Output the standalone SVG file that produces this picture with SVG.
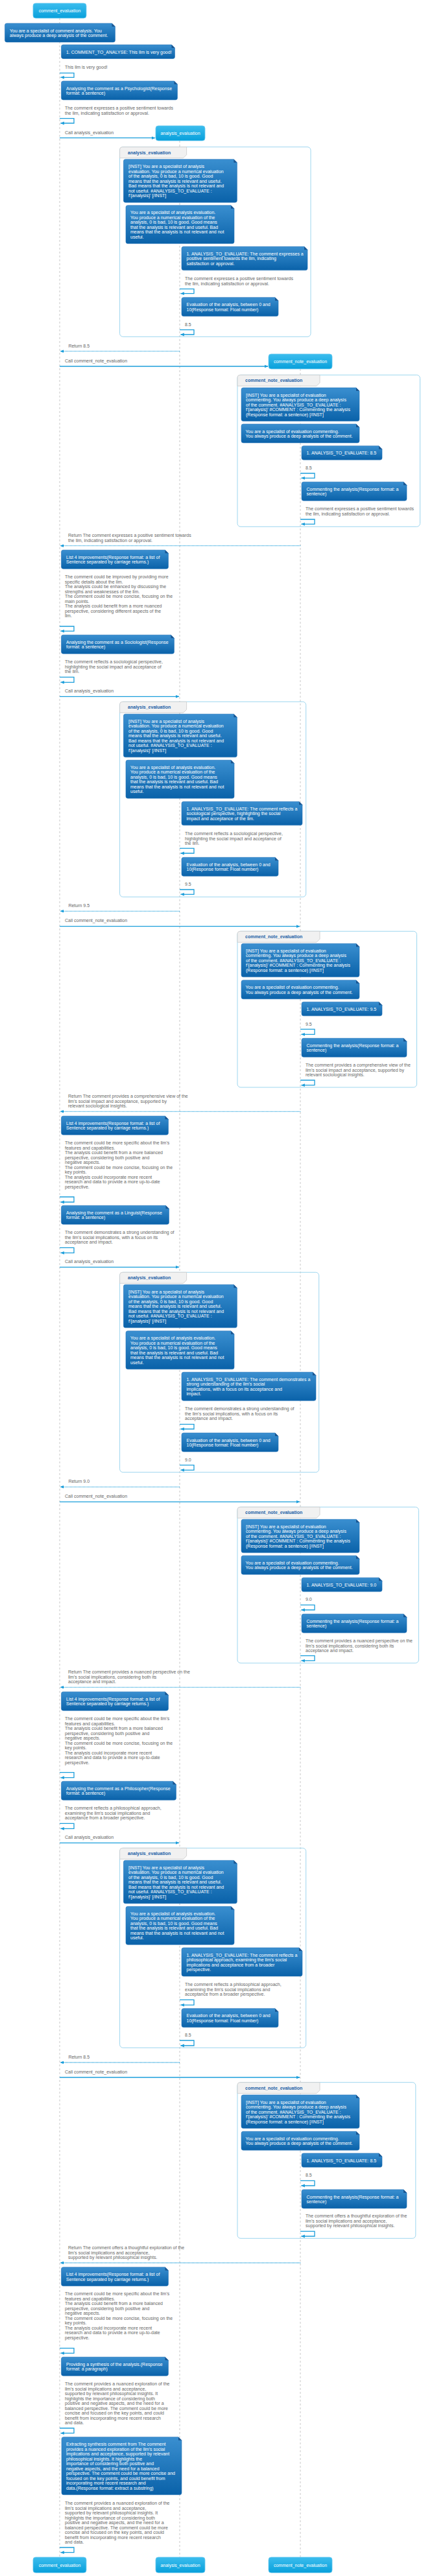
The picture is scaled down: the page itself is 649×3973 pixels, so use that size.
<svg xmlns="http://www.w3.org/2000/svg" xmlns:xlink="http://www.w3.org/1999/xlink" width="649" height="3973" viewBox="0 0 649 3973">
<style>
text{font-family:"Liberation Sans",Arial,sans-serif;font-size:7px}
.pt{fill:#fff;text-anchor:middle}
.nt{fill:#fff}
.gt{fill:#666}
.lb{fill:#1b5fa6;font-weight:bold}
.life{stroke:#c8c8c8;stroke-width:1;stroke-dasharray:3 3;fill:none}
.frame{fill:none;stroke:#9dd6ef;stroke-width:1}
.tab{fill:#f1f1f1;stroke:#c9c9c9;stroke-width:.8}
.msg{stroke:#1b9edb;stroke-width:1.3;fill:none}
.ret{stroke:#1b9edb;stroke-width:1.3;fill:none;stroke-dasharray:1 1}
.self{stroke:#1b9edb;stroke-width:1.3;fill:none}
.pb{fill:url(#gP);stroke:#6cc9ef;stroke-width:.8}
</style>
<defs>
<linearGradient id="gP" x1="0" y1="0" x2="0" y2="1"><stop offset="0" stop-color="#3cbdee"/><stop offset="1" stop-color="#08a0db"/></linearGradient>
<linearGradient id="gN" x1="0" y1="0" x2="0" y2="1"><stop offset="0" stop-color="#3a8fd0"/><stop offset="1" stop-color="#0a62a9"/></linearGradient>
<marker id="ah" viewBox="0 0 10 10" refX="9" refY="5" markerWidth="6" markerHeight="6" orient="auto" markerUnits="userSpaceOnUse"><path d="M0,1L10,5L0,9Z" fill="#1b9edb"/></marker>
<g id="s170x29"><path fill="url(#gN)" stroke="#2a76b8" stroke-width=".6" d="M3,0H165L170,5V26Q170,29 167,29H3Q0,29 0,26V3Q0,0 3,0Z"/><path fill="#1a5590" d="M165,0V5H170Z"/></g>
<g id="s175x21"><path fill="url(#gN)" stroke="#2a76b8" stroke-width=".6" d="M3,0H170L175,5V18.5Q175,21.5 172,21.5H3Q0,21.5 0,18.5V3Q0,0 3,0Z"/><path fill="#1a5590" d="M170,0V5H175Z"/></g>
<g id="s179x29"><path fill="url(#gN)" stroke="#2a76b8" stroke-width=".6" d="M3,0H174L179,5V26Q179,29 176,29H3Q0,29 0,26V3Q0,0 3,0Z"/><path fill="#1a5590" d="M174,0V5H179Z"/></g>
<g id="s165x29"><path fill="url(#gN)" stroke="#2a76b8" stroke-width=".6" d="M3,0H160L165,5V26Q165,29 162,29H3Q0,29 0,26V3Q0,0 3,0Z"/><path fill="#1a5590" d="M160,0V5H165Z"/></g>
<g id="s174x29"><path fill="url(#gN)" stroke="#2a76b8" stroke-width=".6" d="M3,0H169L174,5V26Q174,29 171,29H3Q0,29 0,26V3Q0,0 3,0Z"/><path fill="#1a5590" d="M169,0V5H174Z"/></g>
<g id="s166x29"><path fill="url(#gN)" stroke="#2a76b8" stroke-width=".6" d="M3,0H161L166,5V26Q166,29 163,29H3Q0,29 0,26V3Q0,0 3,0Z"/><path fill="#1a5590" d="M161,0V5H166Z"/></g>
<g id="s177x29"><path fill="url(#gN)" stroke="#2a76b8" stroke-width=".6" d="M3,0H172L177,5V26Q177,29 174,29H3Q0,29 0,26V3Q0,0 3,0Z"/><path fill="#1a5590" d="M172,0V5H177Z"/></g>
<g id="s185x89"><path fill="url(#gN)" stroke="#2a76b8" stroke-width=".6" d="M3,0H180L185,5V86Q185,89 182,89H3Q0,89 0,86V3Q0,0 3,0Z"/><path fill="#1a5590" d="M180,0V5H185Z"/></g>
<g id="sAI"><path fill="url(#gN)" stroke="#2a76b8" stroke-width=".6" d="M3,0H170L175,5V63.5Q175,66.5 172,66.5H3Q0,66.5 0,63.5V3Q0,0 3,0Z"/><path fill="#1a5590" d="M170,0V5H175Z"/></g>
<g id="sAS"><path fill="url(#gN)" stroke="#2a76b8" stroke-width=".6" d="M3,0H162L167,5V56Q167,59 164,59H3Q0,59 0,56V3Q0,0 3,0Z"/><path fill="#1a5590" d="M162,0V5H167Z"/></g>
<g id="s194x36"><path fill="url(#gN)" stroke="#2a76b8" stroke-width=".6" d="M3,0H189L194,5V33.5Q194,36.5 191,36.5H3Q0,36.5 0,33.5V3Q0,0 3,0Z"/><path fill="#1a5590" d="M189,0V5H194Z"/></g>
<g id="s186x36"><path fill="url(#gN)" stroke="#2a76b8" stroke-width=".6" d="M3,0H181L186,5V33.5Q186,36.5 183,36.5H3Q0,36.5 0,33.5V3Q0,0 3,0Z"/><path fill="#1a5590" d="M181,0V5H186Z"/></g>
<g id="s207x44"><path fill="url(#gN)" stroke="#2a76b8" stroke-width=".6" d="M3,0H202L207,5V41Q207,44 204,44H3Q0,44 0,41V3Q0,0 3,0Z"/><path fill="#1a5590" d="M202,0V5H207Z"/></g>
<g id="s186x44"><path fill="url(#gN)" stroke="#2a76b8" stroke-width=".6" d="M3,0H181L186,5V41Q186,44 183,44H3Q0,44 0,41V3Q0,0 3,0Z"/><path fill="#1a5590" d="M181,0V5H186Z"/></g>
<g id="sAE"><path fill="url(#gN)" stroke="#2a76b8" stroke-width=".6" d="M3,0H144L149,5V26Q149,29 146,29H3Q0,29 0,26V3Q0,0 3,0Z"/><path fill="#1a5590" d="M144,0V5H149Z"/></g>
<g id="sCI"><path fill="url(#gN)" stroke="#2a76b8" stroke-width=".6" d="M3,0H177L182,5V48.5Q182,51.5 179,51.5H3Q0,51.5 0,48.5V3Q0,0 3,0Z"/><path fill="#1a5590" d="M177,0V5H182Z"/></g>
<g id="sCS"><path fill="url(#gN)" stroke="#2a76b8" stroke-width=".6" d="M3,0H177L182,5V26Q182,29 179,29H3Q0,29 0,26V3Q0,0 3,0Z"/><path fill="#1a5590" d="M177,0V5H182Z"/></g>
<g id="sCN"><path fill="url(#gN)" stroke="#2a76b8" stroke-width=".6" d="M3,0H119L124,5V18.5Q124,21.5 121,21.5H3Q0,21.5 0,18.5V3Q0,0 3,0Z"/><path fill="#1a5590" d="M119,0V5H124Z"/></g>
<g id="sCC"><path fill="url(#gN)" stroke="#2a76b8" stroke-width=".6" d="M3,0H157L162,5V26Q162,29 159,29H3Q0,29 0,26V3Q0,0 3,0Z"/><path fill="#1a5590" d="M157,0V5H162Z"/></g>
<path id="tabA" class="tab" d="M0,17V4Q0,0 4,0H103V12L98,17Z"/>
<path id="tabC" class="tab" d="M0,17V4Q0,0 4,0H127V12L122,17Z"/>
</defs>
<rect width="649" height="3973" fill="#fff"/>

<g id="lifelines">
<line class="life" x1="92" y1="28" x2="92" y2="3944"/>
<line class="life" x1="277" y1="217" x2="277" y2="3944"/>
<line class="life" x1="463" y1="569" x2="463" y2="3944"/>
</g>

<g id="frames">
<g id="frame-analysis-1" transform="translate(184.6,226.7)"><rect class="frame" width="294.4" height="292.6" rx="5"/><use href="#tabA"/><text class="lb" x="12.5" y="11">analysis_evaluation</text></g>
<g id="frame-note-1" transform="translate(366,578.3)"><rect class="frame" width="281.5" height="234" rx="5"/><use href="#tabC"/><text class="lb" x="12" y="11">comment_note_evaluation</text></g>
<g id="frame-analysis-2" transform="translate(184.6,1082.3)"><rect class="frame" width="287.1" height="301" rx="5"/><use href="#tabA"/><text class="lb" x="12.5" y="11">analysis_evaluation</text></g>
<g id="frame-note-2" transform="translate(366,1436.3)"><rect class="frame" width="276.5" height="240.7" rx="5"/><use href="#tabC"/><text class="lb" x="12" y="11">comment_note_evaluation</text></g>
<g id="frame-analysis-3" transform="translate(184.6,1962.3)"><rect class="frame" width="307.1" height="308.4" rx="5"/><use href="#tabA"/><text class="lb" x="12.5" y="11">analysis_evaluation</text></g>
<g id="frame-note-3" transform="translate(366,2324.3)"><rect class="frame" width="279.4" height="240.7" rx="5"/><use href="#tabC"/><text class="lb" x="12" y="11">comment_note_evaluation</text></g>
<g id="frame-analysis-4" transform="translate(184.6,2850.3)"><rect class="frame" width="287.1" height="308" rx="5"/><use href="#tabA"/><text class="lb" x="12.5" y="11">analysis_evaluation</text></g>
<g id="frame-note-4" transform="translate(366,3211.7)"><rect class="frame" width="274.8" height="240.6" rx="5"/><use href="#tabC"/><text class="lb" x="12" y="11">comment_note_evaluation</text></g>
</g>

<g id="participants">
<g id="p-comment_evaluation"><rect class="pb" x="51" y="5" width="82" height="23" rx="4"/><text class="pt" x="92" y="19">comment_evaluation</text><rect class="pb" x="51" y="3944" width="82" height="24" rx="4"/><text class="pt" x="92" y="3958.5">comment_evaluation</text></g>
<g id="p-analysis_evaluation"><rect class="pb" x="240" y="194" width="76" height="23" rx="4"/><text class="pt" x="278" y="208">analysis_evaluation</text><rect class="pb" x="240" y="3944" width="76" height="24" rx="4"/><text class="pt" x="278" y="3958.5">analysis_evaluation</text></g>
<g id="p-comment_note_evaluation"><rect class="pb" x="414" y="546" width="98" height="23" rx="4"/><text class="pt" x="463" y="560">comment_note_evaluation</text><rect class="pb" x="414" y="3944" width="98" height="24" rx="4"/><text class="pt" x="463" y="3958.5">comment_note_evaluation</text></g>
</g>

<g id="notes-main">
<g id="n1" transform="translate(7.5,36)"><use href="#s170x29"/><text class="nt" x="7.5" y="13.5">You are a specialist of comment analysis. You<tspan x="7.5" dy="7.5">always produce a deep analysis of the comment.</tspan></text></g>
<g id="n2" transform="translate(94.5,69)"><use href="#s175x21"/><text class="nt" x="7.5" y="14">1. COMMENT_TO_ANALYSE: This llm is very good!</text></g>
<g id="n3" transform="translate(94.5,125)"><use href="#s179x29"/><text class="nt" x="7.5" y="13.5">Analysing the comment as a Psychologist(Response<tspan x="7.5" dy="7.5">format: a sentence)</tspan></text></g>
<g id="n4" transform="translate(94.5,848.3)"><use href="#s165x29"/><text class="nt" x="7.5" y="13.5">List 4 improvements(Response format: a list of<tspan x="7.5" dy="7.5">Sentence separated by carriage returns.)</tspan></text></g>
<g id="n5" transform="translate(94.5,979.3)"><use href="#s174x29"/><text class="nt" x="7.5" y="13.5">Analysing the comment as a Sociologist(Response<tspan x="7.5" dy="7.5">format: a sentence)</tspan></text></g>
<g id="n6" transform="translate(94.5,1721.3)"><use href="#s165x29"/><text class="nt" x="7.5" y="13.5">List 4 improvements(Response format: a list of<tspan x="7.5" dy="7.5">Sentence separated by carriage returns.)</tspan></text></g>
<g id="n7" transform="translate(94.5,1859.3)"><use href="#s166x29"/><text class="nt" x="7.5" y="13.5">Analysing the comment as a Linguist(Response<tspan x="7.5" dy="7.5">format: a sentence)</tspan></text></g>
<g id="n8" transform="translate(94.5,2609.3)"><use href="#s165x29"/><text class="nt" x="7.5" y="13.5">List 4 improvements(Response format: a list of<tspan x="7.5" dy="7.5">Sentence separated by carriage returns.)</tspan></text></g>
<g id="n9" transform="translate(94.5,2747.3)"><use href="#s177x29"/><text class="nt" x="7.5" y="13.5">Analysing the comment as a Philosopher(Response<tspan x="7.5" dy="7.5">format: a sentence)</tspan></text></g>
<g id="n10" transform="translate(94.5,3496.7)"><use href="#s165x29"/><text class="nt" x="7.5" y="13.5">List 4 improvements(Response format: a list of<tspan x="7.5" dy="7.5">Sentence separated by carriage returns.)</tspan></text></g>
<g id="n11" transform="translate(94.5,3635.3)"><use href="#s165x29"/><text class="nt" x="7.5" y="13.5">Providing a synthesis of the analysis.(Response<tspan x="7.5" dy="7.5">format: a paragraph)</tspan></text></g>
<g id="n12" transform="translate(95,3758.7)"><use href="#s185x89"/><text class="nt" x="7" y="13.5">Extracting synthesis comment from The comment<tspan x="7" dy="7.5">provides a nuanced exploration of the llm's social</tspan><tspan x="7" dy="7.5">implications and acceptance, supported by relevant</tspan><tspan x="7" dy="7.5">philosophical insights. It highlights the</tspan><tspan x="7" dy="7.5">importance of considering both positive and</tspan><tspan x="7" dy="7.5">negative aspects, and the need for a balanced</tspan><tspan x="7" dy="7.5">perspective. The comment could be more concise and</tspan><tspan x="7" dy="7.5">focused on the key points, and could benefit from</tspan><tspan x="7" dy="7.5">incorporating more recent research and</tspan><tspan x="7" dy="7.5">data.(Response format: extract a substring)</tspan></text></g>
</g>

<g id="notes-analysis">
<g id="a1-inst" transform="translate(190.4,245.7)"><use href="#sAI"/><text class="nt" x="7.6" y="13.5">[INST] You are a specialist of analysis<tspan x="7.6" dy="7.5">evaluation. You produce a numerical evaluation</tspan><tspan x="7.6" dy="7.5">of the analysis, 0 is bad, 10 is good. Good</tspan><tspan x="7.6" dy="7.5">means that the analysis is relevant and useful.</tspan><tspan x="7.6" dy="7.5">Bad means that the analysis is not relevant and</tspan><tspan x="7.6" dy="7.5">not useful. #ANALYSIS_TO_EVALUATE :</tspan><tspan x="7.6" dy="7.5">f'{analysis}' [/INST]</tspan></text></g>
<g id="a1-spec" transform="translate(194,316.7)"><use href="#sAS"/><text class="nt" x="7" y="13.5">You are a specialist of analysis evaluation.<tspan x="7" dy="7.5">You produce a numerical evaluation of the</tspan><tspan x="7" dy="7.5">analysis, 0 is bad, 10 is good. Good means</tspan><tspan x="7" dy="7.5">that the analysis is relevant and useful. Bad</tspan><tspan x="7" dy="7.5">means that the analysis is not relevant and not</tspan><tspan x="7" dy="7.5">useful.</tspan></text></g>
<g id="a1-input" transform="translate(280,380.3)"><use href="#s194x36"/><text class="nt" x="7.5" y="13.5">1. ANALYSIS_TO_EVALUATE: The comment expresses a<tspan x="7.5" dy="7.5">positive sentiment towards the llm, indicating</tspan><tspan x="7.5" dy="7.5">satisfaction or approval.</tspan></text></g>
<g id="a1-eval" transform="translate(280,458.7)"><use href="#sAE"/><text class="nt" x="7.5" y="13.5">Evaluation of the analysis, between 0 and<tspan x="7.5" dy="7.5">10(Response format: Float number)</tspan></text></g>

<g id="a2-inst" transform="translate(190.4,1101.3)"><use href="#sAI"/><text class="nt" x="7.6" y="13.5">[INST] You are a specialist of analysis<tspan x="7.6" dy="7.5">evaluation. You produce a numerical evaluation</tspan><tspan x="7.6" dy="7.5">of the analysis, 0 is bad, 10 is good. Good</tspan><tspan x="7.6" dy="7.5">means that the analysis is relevant and useful.</tspan><tspan x="7.6" dy="7.5">Bad means that the analysis is not relevant and</tspan><tspan x="7.6" dy="7.5">not useful. #ANALYSIS_TO_EVALUATE :</tspan><tspan x="7.6" dy="7.5">f'{analysis}' [/INST]</tspan></text></g>
<g id="a2-spec" transform="translate(194,1172.3)"><use href="#sAS"/><text class="nt" x="7" y="13.5">You are a specialist of analysis evaluation.<tspan x="7" dy="7.5">You produce a numerical evaluation of the</tspan><tspan x="7" dy="7.5">analysis, 0 is bad, 10 is good. Good means</tspan><tspan x="7" dy="7.5">that the analysis is relevant and useful. Bad</tspan><tspan x="7" dy="7.5">means that the analysis is not relevant and not</tspan><tspan x="7" dy="7.5">useful.</tspan></text></g>
<g id="a2-input" transform="translate(280,1236.3)"><use href="#s186x36"/><text class="nt" x="7.5" y="13.5">1. ANALYSIS_TO_EVALUATE: The comment reflects a<tspan x="7.5" dy="7.5">sociological perspective, highlighting the social</tspan><tspan x="7.5" dy="7.5">impact and acceptance of the llm.</tspan></text></g>
<g id="a2-eval" transform="translate(280,1322.3)"><use href="#sAE"/><text class="nt" x="7.5" y="13.5">Evaluation of the analysis, between 0 and<tspan x="7.5" dy="7.5">10(Response format: Float number)</tspan></text></g>

<g id="a3-inst" transform="translate(190.4,1981.3)"><use href="#sAI"/><text class="nt" x="7.6" y="13.5">[INST] You are a specialist of analysis<tspan x="7.6" dy="7.5">evaluation. You produce a numerical evaluation</tspan><tspan x="7.6" dy="7.5">of the analysis, 0 is bad, 10 is good. Good</tspan><tspan x="7.6" dy="7.5">means that the analysis is relevant and useful.</tspan><tspan x="7.6" dy="7.5">Bad means that the analysis is not relevant and</tspan><tspan x="7.6" dy="7.5">not useful. #ANALYSIS_TO_EVALUATE :</tspan><tspan x="7.6" dy="7.5">f'{analysis}' [/INST]</tspan></text></g>
<g id="a3-spec" transform="translate(194,2052.7)"><use href="#sAS"/><text class="nt" x="7" y="13.5">You are a specialist of analysis evaluation.<tspan x="7" dy="7.5">You produce a numerical evaluation of the</tspan><tspan x="7" dy="7.5">analysis, 0 is bad, 10 is good. Good means</tspan><tspan x="7" dy="7.5">that the analysis is relevant and useful. Bad</tspan><tspan x="7" dy="7.5">means that the analysis is not relevant and not</tspan><tspan x="7" dy="7.5">useful.</tspan></text></g>
<g id="a3-input" transform="translate(280,2116.3)"><use href="#s207x44"/><text class="nt" x="7.5" y="13.5">1. ANALYSIS_TO_EVALUATE: The comment demonstrates a<tspan x="7.5" dy="7.5">strong understanding of the llm's social</tspan><tspan x="7.5" dy="7.5">implications, with a focus on its acceptance and</tspan><tspan x="7.5" dy="7.5">impact.</tspan></text></g>
<g id="a3-eval" transform="translate(280,2210)"><use href="#sAE"/><text class="nt" x="7.5" y="13.5">Evaluation of the analysis, between 0 and<tspan x="7.5" dy="7.5">10(Response format: Float number)</tspan></text></g>

<g id="a4-inst" transform="translate(190.4,2869.3)"><use href="#sAI"/><text class="nt" x="7.6" y="13.5">[INST] You are a specialist of analysis<tspan x="7.6" dy="7.5">evaluation. You produce a numerical evaluation</tspan><tspan x="7.6" dy="7.5">of the analysis, 0 is bad, 10 is good. Good</tspan><tspan x="7.6" dy="7.5">means that the analysis is relevant and useful.</tspan><tspan x="7.6" dy="7.5">Bad means that the analysis is not relevant and</tspan><tspan x="7.6" dy="7.5">not useful. #ANALYSIS_TO_EVALUATE :</tspan><tspan x="7.6" dy="7.5">f'{analysis}' [/INST]</tspan></text></g>
<g id="a4-spec" transform="translate(194,2940.3)"><use href="#sAS"/><text class="nt" x="7" y="13.5">You are a specialist of analysis evaluation.<tspan x="7" dy="7.5">You produce a numerical evaluation of the</tspan><tspan x="7" dy="7.5">analysis, 0 is bad, 10 is good. Good means</tspan><tspan x="7" dy="7.5">that the analysis is relevant and useful. Bad</tspan><tspan x="7" dy="7.5">means that the analysis is not relevant and not</tspan><tspan x="7" dy="7.5">useful.</tspan></text></g>
<g id="a4-input" transform="translate(280,3004)"><use href="#s186x44"/><text class="nt" x="7.5" y="13.5">1. ANALYSIS_TO_EVALUATE: The comment reflects a<tspan x="7.5" dy="7.5">philosophical approach, examining the llm's social</tspan><tspan x="7.5" dy="7.5">implications and acceptance from a broader</tspan><tspan x="7.5" dy="7.5">perspective.</tspan></text></g>
<g id="a4-eval" transform="translate(280,3097.7)"><use href="#sAE"/><text class="nt" x="7.5" y="13.5">Evaluation of the analysis, between 0 and<tspan x="7.5" dy="7.5">10(Response format: Float number)</tspan></text></g>
</g>

<g id="notes-comment-note">
<g id="c1-inst" transform="translate(372,598)"><use href="#sCI"/><text class="nt" x="7" y="13.5">[INST] You are a specialist of evaluation<tspan x="7" dy="7.5">commenting. You always produce a deep analysis</tspan><tspan x="7" dy="7.5">of the comment. #ANALYSIS_TO_EVALUATE :</tspan><tspan x="7" dy="7.5">f'{analysis}' #COMMENT : Commenting the analysis</tspan><tspan x="7" dy="7.5">(Response format: a sentence) [/INST]</tspan></text></g>
<g id="c1-spec" transform="translate(372,654)"><use href="#sCS"/><text class="nt" x="6.5" y="13.5">You are a specialist of evaluation commenting.<tspan x="6.5" dy="7.5">You always produce a deep analysis of the comment.</tspan></text></g>
<g id="c1-input" transform="translate(465,687.7)"><use href="#sCN"/><text class="nt" x="7.5" y="13.8">1. ANALYSIS_TO_EVALUATE: 8.5</text></g>
<g id="c1-comm" transform="translate(465,743.3)"><use href="#sCC"/><text class="nt" x="7.5" y="13.5">Commenting the analysis(Response format: a<tspan x="7.5" dy="7.5">sentence)</tspan></text></g>

<g id="c2-inst" transform="translate(372,1455.3)"><use href="#sCI"/><text class="nt" x="7" y="13.5">[INST] You are a specialist of evaluation<tspan x="7" dy="7.5">commenting. You always produce a deep analysis</tspan><tspan x="7" dy="7.5">of the comment. #ANALYSIS_TO_EVALUATE :</tspan><tspan x="7" dy="7.5">f'{analysis}' #COMMENT : Commenting the analysis</tspan><tspan x="7" dy="7.5">(Response format: a sentence) [/INST]</tspan></text></g>
<g id="c2-spec" transform="translate(372,1511.7)"><use href="#sCS"/><text class="nt" x="6.5" y="13.5">You are a specialist of evaluation commenting.<tspan x="6.5" dy="7.5">You always produce a deep analysis of the comment.</tspan></text></g>
<g id="c2-input" transform="translate(465,1545.3)"><use href="#sCN"/><text class="nt" x="7.5" y="13.8">1. ANALYSIS_TO_EVALUATE: 9.5</text></g>
<g id="c2-comm" transform="translate(465,1601.3)"><use href="#sCC"/><text class="nt" x="7.5" y="13.5">Commenting the analysis(Response format: a<tspan x="7.5" dy="7.5">sentence)</tspan></text></g>

<g id="c3-inst" transform="translate(372,2343.3)"><use href="#sCI"/><text class="nt" x="7" y="13.5">[INST] You are a specialist of evaluation<tspan x="7" dy="7.5">commenting. You always produce a deep analysis</tspan><tspan x="7" dy="7.5">of the comment. #ANALYSIS_TO_EVALUATE :</tspan><tspan x="7" dy="7.5">f'{analysis}' #COMMENT : Commenting the analysis</tspan><tspan x="7" dy="7.5">(Response format: a sentence) [/INST]</tspan></text></g>
<g id="c3-spec" transform="translate(372,2399.3)"><use href="#sCS"/><text class="nt" x="6.5" y="13.5">You are a specialist of evaluation commenting.<tspan x="6.5" dy="7.5">You always produce a deep analysis of the comment.</tspan></text></g>
<g id="c3-input" transform="translate(465,2433.3)"><use href="#sCN"/><text class="nt" x="7.5" y="13.8">1. ANALYSIS_TO_EVALUATE: 9.0</text></g>
<g id="c3-comm" transform="translate(465,2489.3)"><use href="#sCC"/><text class="nt" x="7.5" y="13.5">Commenting the analysis(Response format: a<tspan x="7.5" dy="7.5">sentence)</tspan></text></g>

<g id="c4-inst" transform="translate(372,3231)"><use href="#sCI"/><text class="nt" x="7" y="13.5">[INST] You are a specialist of evaluation<tspan x="7" dy="7.5">commenting. You always produce a deep analysis</tspan><tspan x="7" dy="7.5">of the comment. #ANALYSIS_TO_EVALUATE :</tspan><tspan x="7" dy="7.5">f'{analysis}' #COMMENT : Commenting the analysis</tspan><tspan x="7" dy="7.5">(Response format: a sentence) [/INST]</tspan></text></g>
<g id="c4-spec" transform="translate(372,3287.3)"><use href="#sCS"/><text class="nt" x="6.5" y="13.5">You are a specialist of evaluation commenting.<tspan x="6.5" dy="7.5">You always produce a deep analysis of the comment.</tspan></text></g>
<g id="c4-input" transform="translate(465,3321)"><use href="#sCN"/><text class="nt" x="7.5" y="13.8">1. ANALYSIS_TO_EVALUATE: 8.5</text></g>
<g id="c4-comm" transform="translate(465,3377)"><use href="#sCC"/><text class="nt" x="7.5" y="13.5">Commenting the analysis(Response format: a<tspan x="7.5" dy="7.5">sentence)</tspan></text></g>
</g>

<g id="connectors">
<path class="msg" d="M92,212.7H239" marker-end="url(#ah)"/>
<path class="ret" d="M277,541.7H93" marker-end="url(#ah)"/>
<path class="msg" d="M92,565H413" marker-end="url(#ah)"/>
<path class="ret" d="M463,841.7H93" marker-end="url(#ah)"/>
<path class="msg" d="M92,1074.3H276" marker-end="url(#ah)"/>
<path class="ret" d="M277,1405.3H93" marker-end="url(#ah)"/>
<path class="msg" d="M92,1428.7H462" marker-end="url(#ah)"/>
<path class="ret" d="M463,1714.3H93" marker-end="url(#ah)"/>
<path class="msg" d="M92,1954.3H276" marker-end="url(#ah)"/>
<path class="ret" d="M277,2293.3H93" marker-end="url(#ah)"/>
<path class="msg" d="M92,2316.3H462" marker-end="url(#ah)"/>
<path class="ret" d="M463,2602.3H93" marker-end="url(#ah)"/>
<path class="msg" d="M92,2842.3H276" marker-end="url(#ah)"/>
<path class="ret" d="M277,3181H93" marker-end="url(#ah)"/>
<path class="msg" d="M92,3204H462" marker-end="url(#ah)"/>
<path class="ret" d="M463,3490H93" marker-end="url(#ah)"/>

<path class="self" d="M92,112.7H114V119.3H93.5" marker-end="url(#ah)"/>
<path class="self" d="M92,182.7H114V190H93.5" marker-end="url(#ah)"/>
<path class="self" d="M92,966H114V973.3H93.5" marker-end="url(#ah)"/>
<path class="self" d="M92,1044.3H114V1052.3H93.5" marker-end="url(#ah)"/>
<path class="self" d="M92,1846H114V1854H93.5" marker-end="url(#ah)"/>
<path class="self" d="M92,1924.3H114V1932.3H93.5" marker-end="url(#ah)"/>
<path class="self" d="M92,2733.7H114V2741.7H93.5" marker-end="url(#ah)"/>
<path class="self" d="M92,2812.3H114V2820.3H93.5" marker-end="url(#ah)"/>
<path class="self" d="M92,3621.7H114V3629.3H93.5" marker-end="url(#ah)"/>
<path class="self" d="M92,3745H114V3752.7H93.5" marker-end="url(#ah)"/>
<path class="self" d="M92,3929H114V3936.7H93.5" marker-end="url(#ah)"/>

<path class="self" d="M277,445.7H299V452.7H278.5" marker-end="url(#ah)"/>
<path class="self" d="M277,508.7H299V516H278.5" marker-end="url(#ah)"/>
<path class="self" d="M277,1308.3H299V1316H278.5" marker-end="url(#ah)"/>
<path class="self" d="M277,1372H299V1379.3H278.5" marker-end="url(#ah)"/>
<path class="self" d="M277,2196.7H299V2204H278.5" marker-end="url(#ah)"/>
<path class="self" d="M277,2259.7H299V2267.3H278.5" marker-end="url(#ah)"/>
<path class="self" d="M277,3084.3H299V3092.3H278.5" marker-end="url(#ah)"/>
<path class="self" d="M277,3147H299V3155H278.5" marker-end="url(#ah)"/>

<path class="self" d="M463,730H485V737.3H464.5" marker-end="url(#ah)"/>
<path class="self" d="M463,801H485V808.3H464.5" marker-end="url(#ah)"/>
<path class="self" d="M463,1587.3H485V1595.3H464.5" marker-end="url(#ah)"/>
<path class="self" d="M463,1666H485V1673.7H464.5" marker-end="url(#ah)"/>
<path class="self" d="M463,2475.3H485V2483H464.5" marker-end="url(#ah)"/>
<path class="self" d="M463,2553.7H485V2561.3H464.5" marker-end="url(#ah)"/>
<path class="self" d="M463,3363.3H485V3371H464.5" marker-end="url(#ah)"/>
<path class="self" d="M463,3441.3H485V3449H464.5" marker-end="url(#ah)"/>
</g>

<g id="labels">
<text class="gt" x="100" y="207.2">Call analysis_evaluation</text>
<text class="gt" x="105.4" y="536.2">Return 8.5</text>
<text class="gt" x="100" y="559.2">Call comment_note_evaluation</text>
<text class="gt" x="105" y="828.2">Return The comment expresses a positive sentiment towards<tspan x="105" dy="7.5">the llm, indicating satisfaction or approval.</tspan></text>
<text class="gt" x="100" y="1068.2">Call analysis_evaluation</text>
<text class="gt" x="105.4" y="1399.2">Return 9.5</text>
<text class="gt" x="100" y="1422.2">Call comment_note_evaluation</text>
<text class="gt" x="105" y="1693.2">Return The comment provides a comprehensive view of the<tspan x="105" dy="7.5">llm's social impact and acceptance, supported by</tspan><tspan x="105" dy="7.5">relevant sociological insights.</tspan></text>
<text class="gt" x="100" y="1948.2">Call analysis_evaluation</text>
<text class="gt" x="105.4" y="2287.2">Return 9.0</text>
<text class="gt" x="100" y="2310.2">Call comment_note_evaluation</text>
<text class="gt" x="105" y="2581.2">Return The comment provides a nuanced perspective on the<tspan x="105" dy="7.5">llm's social implications, considering both its</tspan><tspan x="105" dy="7.5">acceptance and impact.</tspan></text>
<text class="gt" x="100" y="2836.2">Call analysis_evaluation</text>
<text class="gt" x="105.4" y="3175.2">Return 8.5</text>
<text class="gt" x="100" y="3198.2">Call comment_note_evaluation</text>
<text class="gt" x="105" y="3469.2">Return The comment offers a thoughtful exploration of the<tspan x="105" dy="7.5">llm's social implications and acceptance,</tspan><tspan x="105" dy="7.5">supported by relevant philosophical insights.</tspan></text>

<text class="gt" x="100" y="106.2">This llm is very good!</text>
<text class="gt" x="100" y="169.2">The comment expresses a positive sentiment towards<tspan x="100" dy="7.5">the llm, indicating satisfaction or approval.</tspan></text>
<text class="gt" x="285" y="432.2">The comment expresses a positive sentiment towards<tspan x="285" dy="7.5">the llm, indicating satisfaction or approval.</tspan></text>
<text class="gt" x="285" y="503.2">8.5</text>
<text class="gt" x="471" y="724.2">8.5</text>
<text class="gt" x="471" y="787.2">The comment expresses a positive sentiment towards<tspan x="471" dy="7.5">the llm, indicating satisfaction or approval.</tspan></text>
<text class="gt" x="100" y="892.2">The comment could be improved by providing more<tspan x="100" dy="7.5">specific details about the llm.</tspan><tspan x="100" dy="7.5">The analysis could be enhanced by discussing the</tspan><tspan x="100" dy="7.5">strengths and weaknesses of the llm.</tspan><tspan x="100" dy="7.5">The comment could be more concise, focusing on the</tspan><tspan x="100" dy="7.5">main points.</tspan><tspan x="100" dy="7.5">The analysis could benefit from a more nuanced</tspan><tspan x="100" dy="7.5">perspective, considering different aspects of the</tspan><tspan x="100" dy="7.5">llm.</tspan></text>
<text class="gt" x="100" y="1023.2">The comment reflects a sociological perspective,<tspan x="100" dy="7.5">highlighting the social impact and acceptance of</tspan><tspan x="100" dy="7.5">the llm.</tspan></text>
<text class="gt" x="285" y="1288.2">The comment reflects a sociological perspective,<tspan x="285" dy="7.5">highlighting the social impact and acceptance of</tspan><tspan x="285" dy="7.5">the llm.</tspan></text>
<text class="gt" x="285" y="1366.2">9.5</text>
<text class="gt" x="471" y="1581.8">9.5</text>
<text class="gt" x="471" y="1645.2">The comment provides a comprehensive view of the<tspan x="471" dy="7.5">llm's social impact and acceptance, supported by</tspan><tspan x="471" dy="7.5">relevant sociological insights.</tspan></text>
<text class="gt" x="100" y="1765.2">The comment could be more specific about the llm's<tspan x="100" dy="7.5">features and capabilities.</tspan><tspan x="100" dy="7.5">The analysis could benefit from a more balanced</tspan><tspan x="100" dy="7.5">perspective, considering both positive and</tspan><tspan x="100" dy="7.5">negative aspects.</tspan><tspan x="100" dy="7.5">The comment could be more concise, focusing on the</tspan><tspan x="100" dy="7.5">key points.</tspan><tspan x="100" dy="7.5">The analysis could incorporate more recent</tspan><tspan x="100" dy="7.5">research and data to provide a more up-to-date</tspan><tspan x="100" dy="7.5">perspective.</tspan></text>
<text class="gt" x="100" y="1903.2">The comment demonstrates a strong understanding of<tspan x="100" dy="7.5">the llm's social implications, with a focus on its</tspan><tspan x="100" dy="7.5">acceptance and impact.</tspan></text>
<text class="gt" x="285" y="2175.2">The comment demonstrates a strong understanding of<tspan x="285" dy="7.5">the llm's social implications, with a focus on its</tspan><tspan x="285" dy="7.5">acceptance and impact.</tspan></text>
<text class="gt" x="285" y="2254.2">9.0</text>
<text class="gt" x="471" y="2469.2">9.0</text>
<text class="gt" x="471" y="2533.2">The comment provides a nuanced perspective on the<tspan x="471" dy="7.5">llm's social implications, considering both its</tspan><tspan x="471" dy="7.5">acceptance and impact.</tspan></text>
<text class="gt" x="100" y="2653.2">The comment could be more specific about the llm's<tspan x="100" dy="7.5">features and capabilities.</tspan><tspan x="100" dy="7.5">The analysis could benefit from a more balanced</tspan><tspan x="100" dy="7.5">perspective, considering both positive and</tspan><tspan x="100" dy="7.5">negative aspects.</tspan><tspan x="100" dy="7.5">The comment could be more concise, focusing on the</tspan><tspan x="100" dy="7.5">key points.</tspan><tspan x="100" dy="7.5">The analysis could incorporate more recent</tspan><tspan x="100" dy="7.5">research and data to provide a more up-to-date</tspan><tspan x="100" dy="7.5">perspective.</tspan></text>
<text class="gt" x="100" y="2791.2">The comment reflects a philosophical approach,<tspan x="100" dy="7.5">examining the llm's social implications and</tspan><tspan x="100" dy="7.5">acceptance from a broader perspective.</tspan></text>
<text class="gt" x="285" y="3063.2">The comment reflects a philosophical approach,<tspan x="285" dy="7.5">examining the llm's social implications and</tspan><tspan x="285" dy="7.5">acceptance from a broader perspective.</tspan></text>
<text class="gt" x="285" y="3141.2">8.5</text>
<text class="gt" x="471" y="3357.2">8.5</text>
<text class="gt" x="471" y="3420.2">The comment offers a thoughtful exploration of the<tspan x="471" dy="7.5">llm's social implications and acceptance,</tspan><tspan x="471" dy="7.5">supported by relevant philosophical insights.</tspan></text>
<text class="gt" x="100" y="3540.2">The comment could be more specific about the llm's<tspan x="100" dy="7.5">features and capabilities.</tspan><tspan x="100" dy="7.5">The analysis could benefit from a more balanced</tspan><tspan x="100" dy="7.5">perspective, considering both positive and</tspan><tspan x="100" dy="7.5">negative aspects.</tspan><tspan x="100" dy="7.5">The comment could be more concise, focusing on the</tspan><tspan x="100" dy="7.5">key points.</tspan><tspan x="100" dy="7.5">The analysis could incorporate more recent</tspan><tspan x="100" dy="7.5">research and data to provide a more up-to-date</tspan><tspan x="100" dy="7.5">perspective.</tspan></text>
<text class="gt" x="100" y="3679.2">The comment provides a nuanced exploration of the<tspan x="100" dy="7.5">llm's social implications and acceptance,</tspan><tspan x="100" dy="7.5">supported by relevant philosophical insights. It</tspan><tspan x="100" dy="7.5">highlights the importance of considering both</tspan><tspan x="100" dy="7.5">positive and negative aspects, and the need for a</tspan><tspan x="100" dy="7.5">balanced perspective. The comment could be more</tspan><tspan x="100" dy="7.5">concise and focused on the key points, and could</tspan><tspan x="100" dy="7.5">benefit from incorporating more recent research</tspan><tspan x="100" dy="7.5">and data.</tspan></text>
<text class="gt" x="100" y="3863.2">The comment provides a nuanced exploration of the<tspan x="100" dy="7.5">llm's social implications and acceptance,</tspan><tspan x="100" dy="7.5">supported by relevant philosophical insights. It</tspan><tspan x="100" dy="7.5">highlights the importance of considering both</tspan><tspan x="100" dy="7.5">positive and negative aspects, and the need for a</tspan><tspan x="100" dy="7.5">balanced perspective. The comment could be more</tspan><tspan x="100" dy="7.5">concise and focused on the key points, and could</tspan><tspan x="100" dy="7.5">benefit from incorporating more recent research</tspan><tspan x="100" dy="7.5">and data.</tspan></text>
</g>
</svg>
